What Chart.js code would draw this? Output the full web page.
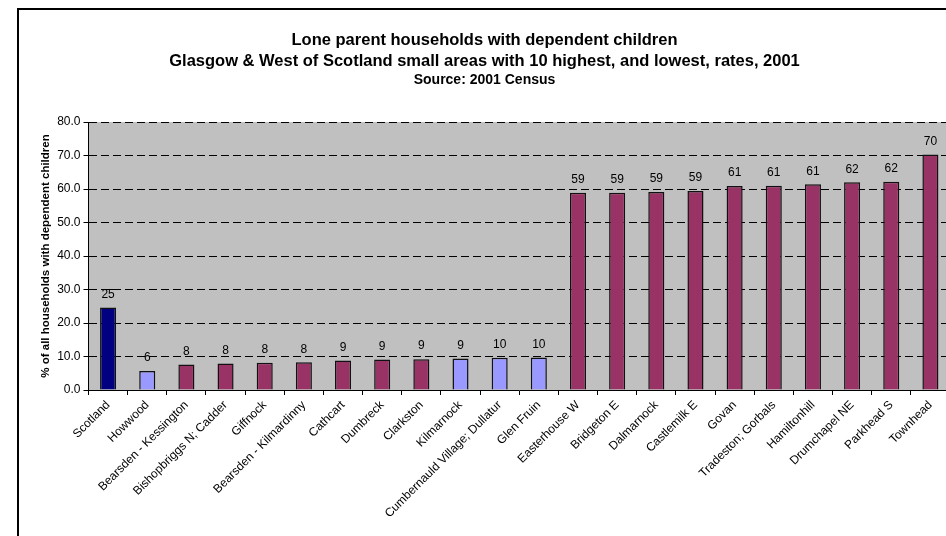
<!DOCTYPE html>
<html>
<head>
<meta charset="utf-8">
<title>Lone parent households with dependent children</title>
<script src="https://cdn.jsdelivr.net/npm/chart.js@4/dist/chart.umd.min.js"></script>
<style>
  html, body { margin: 0; padding: 0; background: #fff; overflow: hidden; }
  #frame {
    position: absolute; left: 17px; top: 8px;
    border-left: 2px solid #000; border-top: 2px solid #000;
    width: 945px; height: 526px;
  }
  #frame canvas { display: block; }
</style>
</head>
<body>
<div id="frame"><canvas id="loneParents" width="945" height="526"></canvas></div>
<script>
const areas = [
    "Scotland", "Howwood", "Bearsden - Kessington", "Bishopbriggs N; Cadder",
    "Giffnock", "Bearsden - Kilmardinny", "Cathcart", "Dumbreck", "Clarkston",
    "Kilmarnock", "Cumbernauld Village; Dullatur", "Glen Fruin", "Easterhouse W",
    "Bridgeton E", "Dalmarnock", "Castlemilk E", "Govan", "Tradeston; Gorbals",
    "Hamiltonhill", "Drumchapel NE", "Parkhead S", "Townhead"
];
const rates = [
    24.6, 5.7, 7.6, 7.9, 8.1, 8.3, 8.8, 9.1, 9.2, 9.4, 9.6, 9.7,
    58.9, 58.9, 59.1, 59.4, 60.9, 61.0, 61.4, 62.0, 62.2, 70.3
];
const yTicks = [0, 10, 20, 30, 40, 50, 60, 70, 80];

const NAVY = "#000080", LILAC = "#9999ff", PLUM = "#993366";
const barColours = [
    NAVY, LILAC, PLUM, PLUM, PLUM, PLUM, PLUM, PLUM, PLUM, LILAC, LILAC, LILAC,
    PLUM, PLUM, PLUM, PLUM, PLUM, PLUM, PLUM, PLUM, PLUM, PLUM
];

const FONT = "'Liberation Sans', Arial, sans-serif";

// grey plot area behind the bars
const plotBackground = {
    id: "plotBackground",
    beforeDraw(chart) {
        const { ctx, chartArea: a } = chart;
        ctx.save();
        ctx.fillStyle = "#c0c0c0";
        ctx.fillRect(a.left, a.top, a.right - a.left, a.bottom - a.top);
        ctx.restore();
    },
};

// rounded value over each bar
const valueLabels = {
    id: "valueLabels",
    afterDatasetsDraw(chart) {
        const ctx = chart.ctx;
        const meta = chart.getDatasetMeta(0);
        ctx.save();
        ctx.font = "12px " + FONT;
        ctx.fillStyle = "#000";
        ctx.textAlign = "center";
        ctx.textBaseline = "middle";
        meta.data.forEach((bar, i) => {
            ctx.fillText(String(Math.round(rates[i])), bar.x, bar.y - 13);
        });
        ctx.restore();
    },
};

new Chart(document.getElementById("loneParents"), {
    type: "bar",
    data: {
        labels: areas,
        datasets: [
            {
                data: rates,
                backgroundColor: barColours,
                borderColor: "#111",
                borderWidth: 1.5,
                categoryPercentage: 1,
                barPercentage: 0.41,
            },
        ],
    },
    options: {
        responsive: false,
        animation: false,
        layout: { padding: { top: 0, right: 14, bottom: 0, left: 0 } },
        scales: {
            x: {
                grid: {
                    drawOnChartArea: false,
                    color: "#000",
                    tickLength: 5,
                },
                border: { color: "#000", width: 1 },
                ticks: {
                    color: "#000",
                    font: { family: FONT, size: 12 },
                    minRotation: 45,
                    maxRotation: 45,
                    autoSkip: false,
                    padding: 3,
                },
                afterFit(scale) { scale.height = 146; },
            },
            y: {
                min: 0,
                max: 80,
                afterBuildTicks(scale) { scale.ticks = yTicks.map(v => ({ value: v })); },
                grid: {
                    color: "#000",
                    tickColor: "#000",
                    tickLength: 5,
                    tickBorderDash: [],
                },
                border: { color: "#000", width: 1, dash: [8, 4] },
                ticks: {
                    color: "#000",
                    font: { family: FONT, size: 12 },
                    padding: 3,
                    callback: v => Number(v).toFixed(1),
                },
                title: {
                    display: true,
                    text: "% of all households with dependent children",
                    color: "#000",
                    font: { family: FONT, size: 11.5, weight: "bold" },
                    padding: { top: 20, bottom: 0 },
                },
                afterFit(scale) { scale.width = 69.5; },
            },
        },
        plugins: {
            legend: { display: false },
            tooltip: { enabled: false },
            title: {
                display: true,
                text: [
                    "Lone parent households with dependent children",
                    "Glasgow & West of Scotland small areas with 10 highest, and lowest, rates, 2001",
                ],
                color: "#000",
                font: { family: FONT, size: 16.5, weight: "bold", lineHeight: 21 / 16.5 },
                padding: { top: 19.5, bottom: 0 },
            },
            subtitle: {
                display: true,
                text: "Source: 2001 Census",
                color: "#000",
                font: { family: FONT, size: 14, weight: "bold", lineHeight: 1.2 },
                padding: { top: 0, bottom: 33.7 },
            },
        },
    },
    plugins: [plotBackground, valueLabels],
});
</script>
</body>
</html>
